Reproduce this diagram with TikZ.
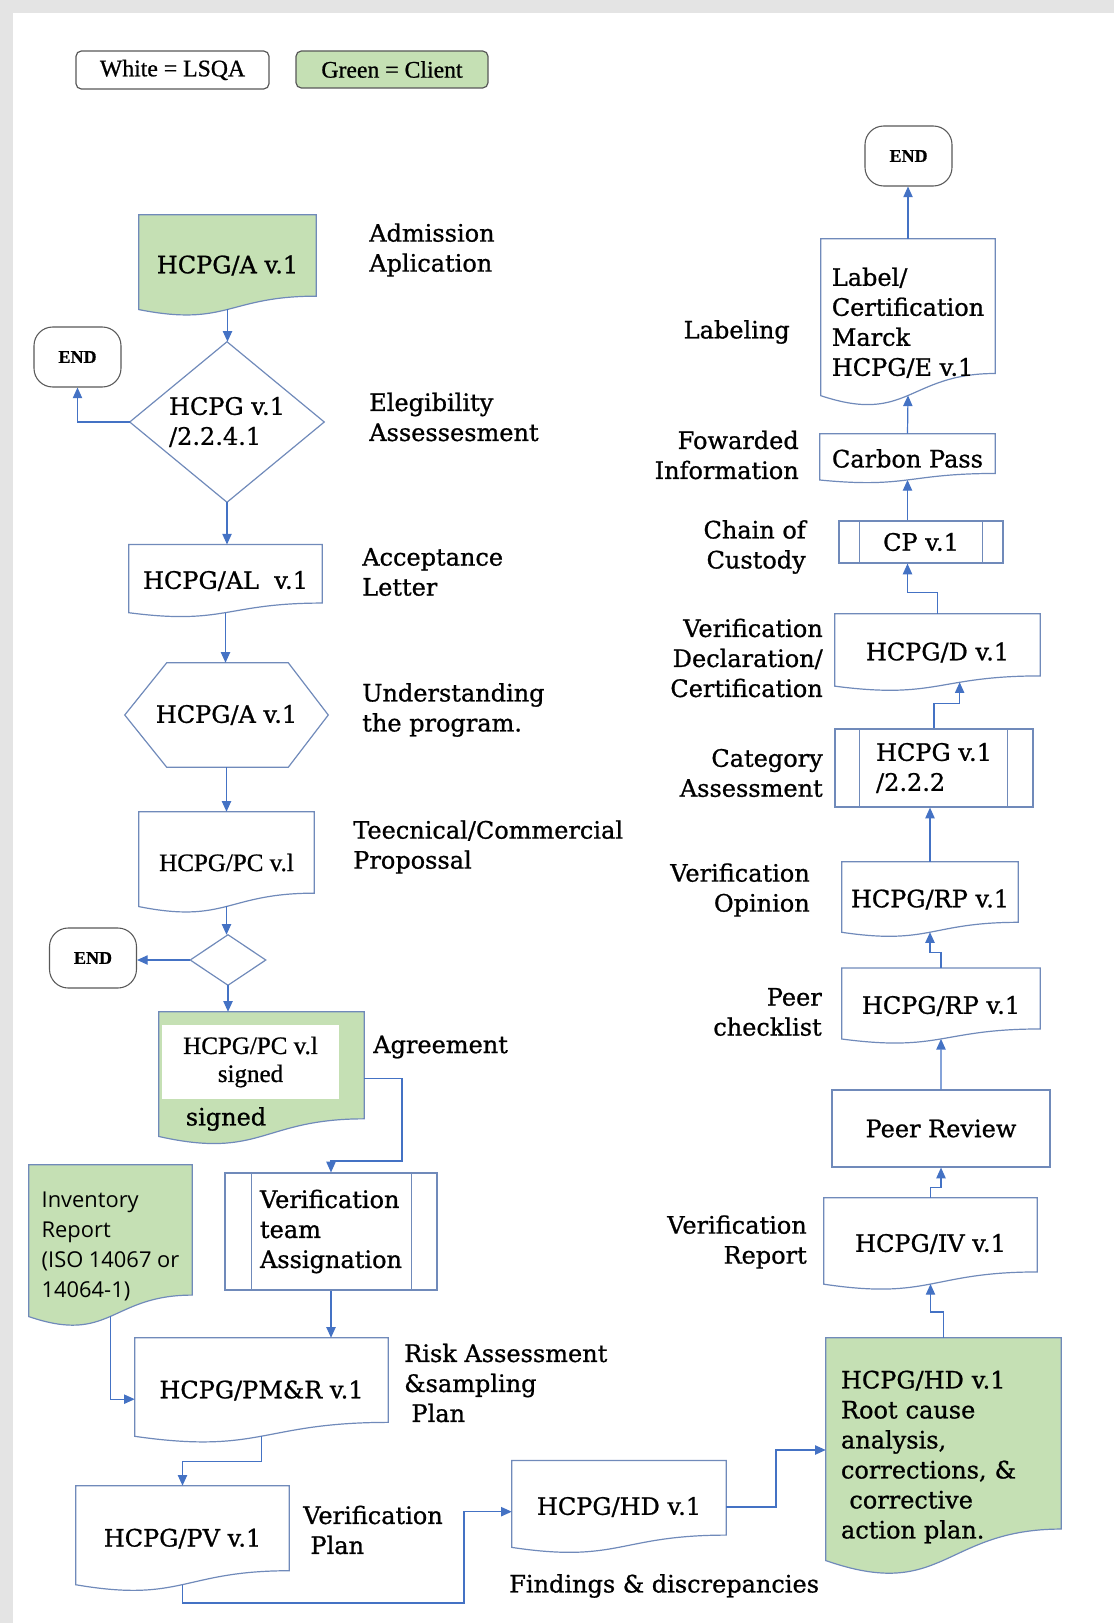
\documentclass[tikz,border=0pt]{standalone}
\usepackage{fontspec}
\setmainfont{DejaVu Serif}[FakeBold=0.9]
\newfontfamily\timesfont{Liberation Serif}[FakeBold=0.8]
\newfontfamily\opensans{Open Sans}
\usetikzlibrary{arrows.meta,calc,backgrounds}

\definecolor{clientgreen}{RGB}{197,224,180}
\definecolor{shapeblue}{RGB}{112,138,186}
\definecolor{arrowblue}{RGB}{68,114,196}
\definecolor{legendgray}{RGB}{88,88,88}
\definecolor{framegray}{RGB}{228,228,228}

\newcommand{\lbl}{\fontsize{18}{22.5}\selectfont}
\newcommand{\tms}{\timesfont\fontsize{18.75}{21}\selectfont}

% document outline with wavy bottom, drawn behind node #2
\newcommand{\docshape}[2][white]{%
  \begin{scope}[on background layer]
  \draw[outline,fill=#1] (#2.north west) -- (#2.north east) -- ($(#2.north east)!0.802!(#2.south east)$) .. controls ($(#2.north)!0.802!(#2.south)$) and ($(#2.north)!1.107!(#2.south)$) .. ($(#2.north west)!0.934!(#2.south west)$) coordinate[pos=0.5] (#2-w) coordinate[pos=0.36] (#2-wr) -- cycle ;
  \end{scope}}
% side bars of a predefined process
\newcommand{\procbars}[3]{%
  \draw[outline] ($(#1.north west)+(#2,0)$) -- ($(#1.south west)+(#2,0)$) ;
  \draw[outline] ($(#1.north east)+(-#3,0)$) -- ($(#1.south east)+(-#3,0)$) ;}

\begin{document}
\begin{tikzpicture}[x=0.75pt,y=0.75pt,yscale=-1,xscale=1,
  wh/.style 2 args={minimum width=#1*0.75pt,minimum height=#2*0.75pt},
  outline/.style={draw=shapeblue,line width=0.9pt},
  box/.style={inner sep=0.75pt,font=\lbl,align=center},
  txt/.style={inner sep=0.75pt,font=\lbl},
  proc/.style={box,outline,fill=white},
  legend/.style={draw=legendgray,line width=0.9pt,rounded corners=4pt,inner sep=0.75pt,font=\timesfont\fontsize{17.8}{21}\selectfont},
  endbox/.style={draw=legendgray,line width=0.8pt,rounded corners=14pt,wh={87}{60},inner sep=0.75pt,font=\timesfont\bfseries\fontsize{13.5}{16}\selectfont},
  flow/.style={draw=arrowblue,line width=0.9pt,-{Triangle[length=8pt,width=7pt]}}]
	\useasboundingbox (0,0) rectangle (1114,1623);
	%Shape: Frame
	\fill[framegray] (0,0) rectangle (1114,13);
	\fill[framegray] (0,0) rectangle (13,1623);

	%Shape: Legend
	\node[legend,wh={193}{38}] (lsqa) at (172.5,70) {White = LSQA};
	\node[legend,wh={192}{37},fill=clientgreen] (client) at (392,69.5) {Green = Client};

	%Shape: Document
	\node[box,wh={177}{101}] (appl) at (227.5,265.5) {HCPG/A v.1};
	\docshape[clientgreen]{appl}
	%Shape: Terminator
	\node[endbox] (endA) at (77.5,357) {END};
	%Shape: Diamond
	\node[box,align=left,wh={194}{160}] (elig) at (227,422) {HCPG v.1\\/2.2.4.1};
	\draw[outline] (elig.north) -- (elig.east) -- (elig.south) -- (elig.west) -- cycle ;
	%Shape: Document
	\node[box,wh={193}{72.5}] (accept) at (225.5,581) {HCPG/AL\ \ v.1};
	\docshape{accept}
	%Shape: Hexagon
	\node[box,wh={203}{104}] (prog) at (226.5,715) {HCPG/A v.1};
	\draw[outline] (prog.west) -- ($(prog.north west)+(42,0)$) -- ($(prog.north east)+(-40,0)$) -- (prog.east) -- ($(prog.south east)+(-40,0)$) -- ($(prog.south west)+(42,0)$) -- cycle ;
	%Shape: Document
	\node[box,wh={175}{101},font=\tms] (prop) at (226.5,862.5) {HCPG/PC v.l};
	\docshape{prop}
	%Shape: Diamond
	\node[box,wh={75}{50}] (dec) at (228,960) {};
	\draw[outline] (dec.north) -- (dec.east) -- (dec.south) -- (dec.west) -- cycle ;
	%Shape: Terminator
	\node[endbox] (endB) at (93,958) {END};
	%Shape: Document
	\node[box,wh={205}{133}] (sign) at (261.5,1078.5) {};
	\docshape[clientgreen]{sign}
	\node[box,wh={177}{74},fill=white,font=\tms] (signin) at (250.5,1062) {HCPG/PC v.l\\signed};
	\node[txt] (signlbl) at (226,1119) {signed};
	%Shape: Predefined Process
	\node[proc,align=left,wh={212}{117}] (team) at (331,1231.5) {Verification\\team\\Assignation};
	\procbars{team}{27}{26}
	%Shape: Document
	\node[box,align=left,wh={163}{162},font=\opensans\fontsize{16.4}{22.5}\selectfont] (inv) at (110.5,1246) {Inventory\\Report\\(ISO 14067 or\\14064-1)};
	\docshape[clientgreen]{inv}
	\node[box,wh={253}{105}] (pmr) at (261.5,1390.5) {HCPG/PM\&R v.1};
	\docshape{pmr}
	\node[box,wh={213}{105.5}] (pv) at (182.5,1538.7) {HCPG/PV v.1};
	\docshape{pv}
	\node[box,wh={214}{92.5}] (hd) at (619,1507) {HCPG/HD v.1};
	\docshape{hd}
	\node[box,align=left,text width=205*0.75pt,wh={235}{238}] (hdc) at (943.5,1457) {HCPG/HD v.1\\Root cause\\analysis,\\corrections, \&\\\hspace*{0.35em}corrective\\action plan.};
	\docshape[clientgreen]{hdc}

	%Shape: Document
	\node[box,wh={213}{92}] (iv) at (930.5,1244) {HCPG/IV v.1};
	\docshape{iv}
	%Shape: Rectangle
	\node[box,outline,wh={218}{77}] (peer) at (941,1128.5) {Peer Review};
	%Shape: Document
	\node[box,wh={198}{75.5}] (rp2) at (941,1006) {HCPG/RP v.1};
	\docshape{rp2}
	\node[box,wh={176}{75}] (rp1) at (930,899.5) {HCPG/RP v.1};
	\docshape{rp1}
	%Shape: Predefined Process
	\node[proc,align=left,wh={198}{78}] (cat) at (934,768) {HCPG v.1\\/2.2.2};
	\procbars{cat}{25}{26}
	%Shape: Document
	\node[box,wh={205}{77}] (decl) at (937.5,652.5) {HCPG/D v.1};
	\docshape{decl}
	%Shape: Predefined Process
	\node[proc,wh={164}{42}] (cp) at (921,542) {CP v.1};
	\procbars{cp}{21}{21}
	%Shape: Document
	\node[box,wh={175}{49}] (carbon) at (907.5,458.5) {Carbon Pass};
	\docshape{carbon}
	\node[box,align=left,wh={174}{167.5}] (lab) at (908,322.75) {Label/\\Certification\\Marck\\HCPG/E v.1};
	\docshape{lab}
	%Shape: Terminator
	\node[endbox] (endC) at (908.5,156) {END};

	%Straight Lines
	\draw[flow] (appl-w) -- (appl-w |- elig.north) ;
	\draw[flow] (elig.west) -| (endA.south) ;
	\draw[flow] (elig.south) -- (elig.south |- accept.north) ;
	\draw[flow] (accept-w) -- (accept-w |- prog.north) ;
	\draw[flow] (prog.south) -- (prog.south |- prop.north) ;
	\draw[flow] (prop-w) -- (prop-w |- dec.north) ;
	\draw[flow] (dec.west) -- (dec.west -| endB.east) ;
	\draw[flow] (dec.south) -- (dec.south |- sign.north) ;
	\coordinate (agrbend) at (402,1161);
	\draw[flow] (sign.east) -| (agrbend) -| (team.north) ;
	\draw[flow] (team.south) -- (team.south |- pmr.north) ;
	\draw[flow] (inv-w) |- ([yshift=6.5pt]pmr.west) ;
	\draw[flow] (pmr-w) |- ($(pv.north)+(0,-24)$) -- (pv.north) ;
	\coordinate (planbend) at (464,1603);
	\draw[flow] (pv-w) |- (planbend) |- ([yshift=3.5pt]hd.west) ;
	\coordinate (findbend) at (776,1450);
	\draw[flow] (hd.east) -| (findbend) -- (findbend -| hdc.west) ;
	\draw[flow] (hdc.north) |- ($(iv-w)+(0,28)$) -- (iv-w) ;
	\draw[flow] (iv.north) |- ($(peer.south)+(0,20)$) -- (peer.south) ;
	\draw[flow] (peer.north) -- (rp2-w) ;
	\draw[flow] (rp2.north) |- ($(rp1-w)+(0,20)$) -- (rp1-w) ;
	\draw[flow] (rp1.north) -- (rp1.north |- cat.south) ;
	\draw[flow] (cat.north) |- ($(decl-wr)+(0,21)$) -- (decl-wr) ;
	\draw[flow] (decl.north) |- ($(cp.south -| carbon.north)+(0,29)$) -- (cp.south -| carbon.north) ;
	\draw[flow] (cp.north -| carbon-w) -- (carbon-w) ;
	\draw[flow] (carbon.north) -- (lab-w) ;
	\draw[flow] (lab.north) -- (lab.north |- endC.south) ;

	% Text Node
	\node[txt,anchor=west,align=left] (lblAdm) at (368,250) {Admission\\Aplication};
	% Text Node
	\node[txt,anchor=west,align=left] (lblElig) at (368,417) {Elegibility\\Assessesment};
	% Text Node
	\node[txt,anchor=west,align=left] (lblAcc) at (361,572) {Acceptance\\Letter};
	% Text Node
	\node[txt,anchor=west,align=left] (lblUnd) at (361,710) {Understanding\\the program.};
	% Text Node
	\node[txt,anchor=west,align=left] (lblProp) at (352,847) {Teecnical/Commercial\\Propossal};
	% Text Node
	\node[txt,anchor=west] (lblAgr) at (372,1047) {Agreement};
	% Text Node
	\node[txt,anchor=west,align=left] (lblRisk) at (403,1383) {Risk Assessment\\\&sampling\\\hspace*{0.3em}Plan};
	% Text Node
	\node[txt,anchor=west,align=left] (lblPlan) at (302,1530) {Verification\\\hspace*{0.3em}Plan};
	% Text Node
	\node[txt,anchor=west] (lblFind) at (508,1586) {Findings \& discrepancies};
	% Text Node
	\node[txt,anchor=east] (lblLab) at (791,332) {Labeling};
	% Text Node
	\node[txt,anchor=east,align=right] (lblFwd) at (800,455) {Fowarded\\Information};
	% Text Node
	\node[txt,anchor=east,align=right] (lblChain) at (807,547) {Chain of\\Custody};
	% Text Node
	\node[txt,anchor=east,align=right] (lblDecl) at (824,658) {Verification\\Declaration/\\Certification};
	% Text Node
	\node[txt,anchor=east,align=right] (lblCat) at (824,773) {Category\\Assessment};
	% Text Node
	\node[txt,anchor=east,align=right] (lblOpin) at (811,890) {Verification\\Opinion};
	% Text Node
	\node[txt,anchor=east,align=right] (lblPeer) at (823,1012) {Peer\\checklist};
	% Text Node
	\node[txt,anchor=east,align=right] (lblRep) at (808,1242) {Verification\\Report};
\end{tikzpicture}
\end{document}
